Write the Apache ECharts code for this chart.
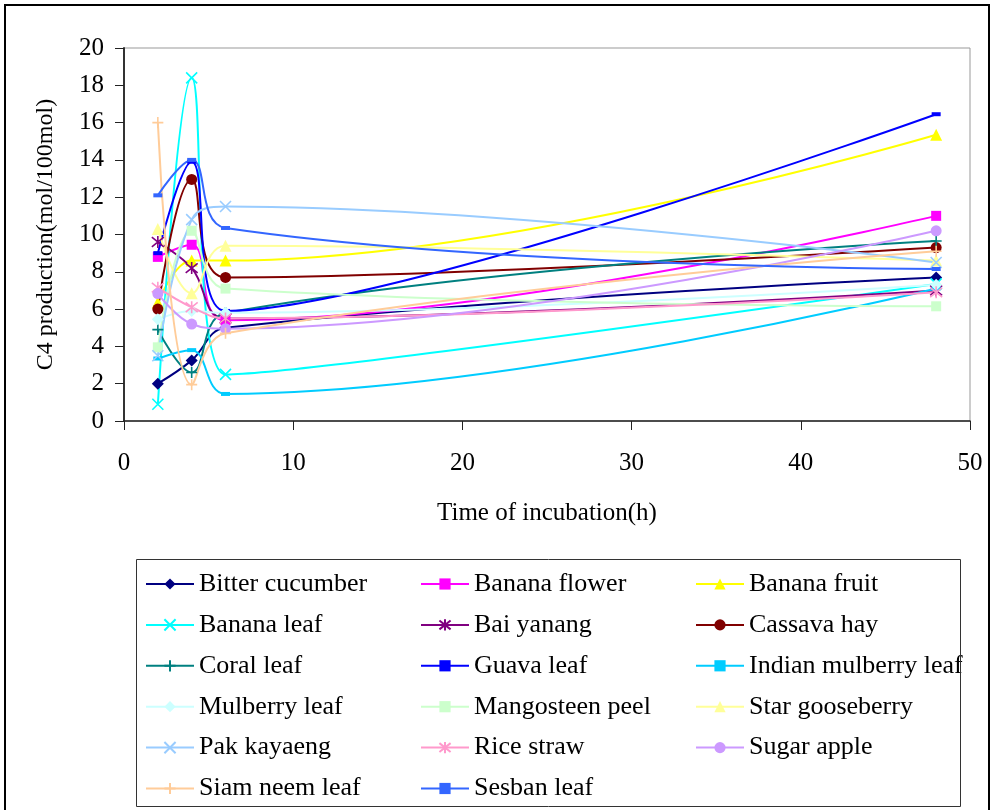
<!DOCTYPE html>
<html>
<head>
<meta charset="utf-8">
<script src="https://cdn.jsdelivr.net/npm/echarts@6/dist/echarts.min.js"></script>
<style>html,body{margin:0;padding:0;background:#fff}#c{width:992px;height:810px}</style>
</head>
<body>
<div id="c"></div>
<script>
var times = [2, 4, 6, 48];
var seriesNames = ["Bitter cucumber","Banana flower","Banana fruit","Banana leaf","Bai yanang","Cassava hay","Coral leaf","Guava leaf","Indian mulberry leaf","Mulberry leaf","Mangosteen peel","Star gooseberry","Pak kayaeng","Rice straw","Sugar apple","Siam neem leaf","Sesban leaf"];
var bitterCucumber = [2.0, 3.25, 5.0, 7.7];
var bananaFlower = [8.8, 9.45, 5.4, 11.0];
var bananaFruit = [6.35, 8.6, 8.6, 15.35];
var bananaLeaf = [0.9, 18.4, 2.5, 7.35];
var baiYanang = [9.6, 8.2, 5.5, 7.0];
var cassavaHay = [6.0, 12.95, 7.7, 9.3];
var coralLeaf = [4.9, 2.6, 5.8, 9.65];
var guavaLeaf = [9.0, 13.9, 5.9, 16.45];
var indianMulberryLeaf = [3.35, 3.8, 1.45, 7.1];
var mulberryLeaf = [5.45, 5.9, 5.8, 7.3];
var mangosteenPeel = [3.95, 10.2, 7.1, 6.15];
var starGooseberry = [10.3, 6.85, 9.4, 8.6];
var pakKayaeng = [3.5, 10.8, 11.5, 8.5];
var riceStraw = [7.15, 6.1, 5.5, 6.9];
var sugarApple = [6.83, 5.2, 4.95, 10.2];
var siamNeemLeaf = [16.0, 1.95, 4.7, 9.1];
var sesbanLeaf = [12.1, 14.0, 10.35, 8.15];
var xTicks = [0, 10, 20, 30, 40, 50];
var yTicks = [0, 2, 4, 6, 8, 10, 12, 14, 16, 18, 20];

var values = [bitterCucumber, bananaFlower, bananaFruit, bananaLeaf, baiYanang, cassavaHay, coralLeaf, guavaLeaf, indianMulberryLeaf, mulberryLeaf, mangosteenPeel, starGooseberry, pakKayaeng, riceStraw, sugarApple, siamNeemLeaf, sesbanLeaf];
var colors = ["#000080","#FF00FF","#FFFF00","#00FFFF","#800080","#800000","#008080","#0000FF","#00CCFF","#CCFFFF","#CCFFCC","#FFFF99","#99CCFF","#FF99CC","#CC99FF","#FFCC99","#3366FF"];

var X_PATH = 'path://M0,0L10,10M10,0L0,10';
var STAR_PATH = 'path://M1,1L9,9M9,1L1,9M5,0L5,10';
var PLUS_PATH = 'path://M5,0L5,10M0,5L10,5';
var DASH_PATH = 'path://M0,0L9,0L9,4L0,4Z';
var markers = [
  {s:'diamond', size:12},
  {s:'rect', size:10},
  {s:'triangle', size:12},
  {s:X_PATH, size:11, stroke:true},
  {s:STAR_PATH, size:12, stroke:true},
  {s:'circle', size:11},
  {s:PLUS_PATH, size:11, stroke:true},
  {s:DASH_PATH, size:9, keep:true},
  {s:DASH_PATH, size:9, keep:true},
  {s:'diamond', size:12},
  {s:'rect', size:10},
  {s:'triangle', size:12},
  {s:X_PATH, size:11, stroke:true},
  {s:STAR_PATH, size:12, stroke:true},
  {s:'circle', size:11},
  {s:PLUS_PATH, size:11, stroke:true},
  {s:DASH_PATH, size:9, keep:true}
];

var series = seriesNames.map(function(name, i){
  var m = markers[i];
  var itemStyle = {color: colors[i], opacity: 1};
  if (m.stroke) { itemStyle.borderColor = colors[i]; itemStyle.borderWidth = 1.6; }
  return {
    name: name,
    type: 'line',
    smooth: 0.4,
    smoothMonotone: null,
    data: times.map(function(t, j){ return [t, values[i][j]]; }),
    symbol: m.s,
    symbolSize: m.size,
    symbolKeepAspect: !!m.keep,
    showAllSymbol: true,
    lineStyle: {color: colors[i], width: 2},
    itemStyle: itemStyle,
    emphasis: {disabled: true},
    animation: false
  };
});

var FONT = 'Liberation Serif';
function legendCol(names, left) {
  return {
    orient: 'vertical',
    left: left,
    top: 571,
    padding: 0,
    itemWidth: 48,
    itemHeight: 14,
    itemGap: 14.9,
    selectedMode: false,
    data: names,
    textStyle: {fontFamily: FONT, fontSize: 26, color: '#000', lineHeight: 26, padding: [0,0,0,0]}
  };
}
var col1 = [], col2 = [], col3 = [];
seriesNames.forEach(function(n, i){ [col1, col2, col3][i % 3].push(n); });

var chart = echarts.init(document.getElementById('c'), null, {renderer: 'canvas'});
chart.setOption({
  backgroundColor: '#fff',
  animation: false,
  textStyle: {fontFamily: FONT},
  grid: {left: 124, right: 22, top: 48, bottom: 389, show: true, borderColor: '#999', borderWidth: 1},
  xAxis: {
    type: 'value', min: xTicks[0], max: xTicks[xTicks.length-1], interval: 10,
    name: 'Time of incubation(h)', nameLocation: 'middle', nameGap: 80,
    nameTextStyle: {fontFamily: FONT, fontSize: 25, color: '#000'},
    axisLine: {show: true, lineStyle: {color: '#222', width: 1.5}},
    axisTick: {show: true, length: 9, lineStyle: {color: '#222'}},
    axisLabel: {fontFamily: FONT, fontSize: 25, color: '#000', margin: 30},
    splitLine: {show: false}
  },
  yAxis: {
    type: 'value', min: yTicks[0], max: yTicks[yTicks.length-1], interval: 2,
    name: 'C4 production(mol/100mol)', nameLocation: 'middle', nameGap: 66, nameRotate: 90,
    nameTextStyle: {fontFamily: FONT, fontSize: 24, color: '#000'},
    axisLine: {show: true, lineStyle: {color: '#333', width: 2}},
    axisTick: {show: true, length: 9, lineStyle: {color: '#222'}},
    axisLabel: {fontFamily: FONT, fontSize: 25, color: '#000', margin: 20},
    splitLine: {show: false}
  },
  legend: [legendCol(col1, 145), legendCol(col2, 420), legendCol(col3, 695)],
  graphic: [
    {type: 'rect', shape: {x: 5, y: 5, width: 984, height: 820}, style: {fill: 'none', stroke: '#000', lineWidth: 2}, silent: true, z: 100},
    {type: 'rect', shape: {x: 136.5, y: 559.5, width: 824, height: 247}, style: {fill: 'none', stroke: '#333', lineWidth: 1}, silent: true, z: 100}
  ],
  series: series
});
</script>
</body>
</html>
